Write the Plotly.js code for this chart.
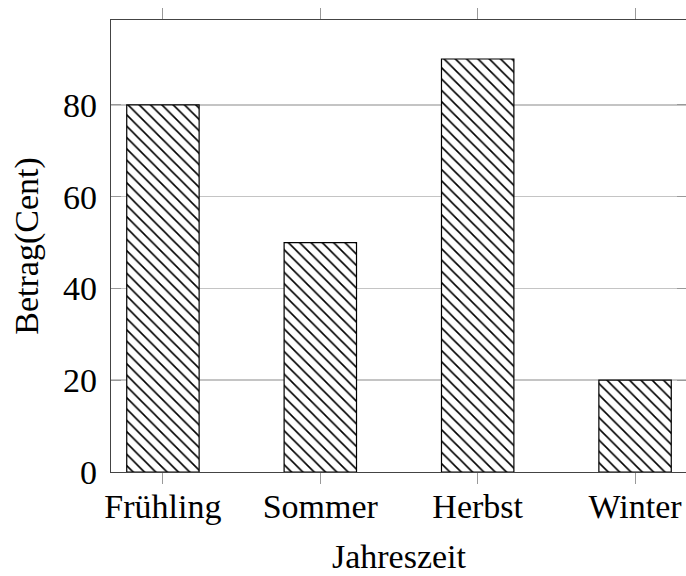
<!DOCTYPE html>
<html>
<head>
<meta charset="utf-8">
<script src="https://cdn.plot.ly/plotly-3.0.1.min.js"></script>
<style>
html,body{margin:0;padding:0;overflow:hidden;background:#fff;}
#chart{width:700px;height:576px;}
</style>
</head>
<body>
<div id="chart"></div>
<script>
const seasons = ["Frühling", "Sommer", "Herbst", "Winter"];
const amounts = [80, 50, 90, 20];
const yTicks = [0, 20, 40, 60, 80];
const xTitle = "Jahreszeit";
const yTitle = "Betrag(Cent)";

const font = {family: "Liberation Serif, DejaVu Serif, serif", size: 34, color: "#000"};

Plotly.newPlot("chart", [{
  type: "bar",
  x: [0, 1, 2, 3],
  y: amounts,
  width: 0.46,
  marker: {
    color: "#fff",
    line: {color: "#000", width: 1.2},
    pattern: {shape: "\\", fgcolor: "#000", bgcolor: "#fff", size: 8, solidity: 0.2}
  },
  hoverinfo: "none"
}], {
  width: 700, height: 576,
  margin: {l: 111, r: 13, t: 20, b: 104},
  paper_bgcolor: "#fff", plot_bgcolor: "#fff",
  showlegend: false,
  font: font,
  xaxis: {
    range: [-0.33, 3.33],
    tickmode: "array", tickvals: [0, 1, 2, 3], ticktext: seasons,
    ticks: "outside", ticklen: 11, tickcolor: "#999", tickwidth: 1,
    showline: true, linecolor: "#444", linewidth: 1.2, mirror: "ticks",
    showgrid: false, zeroline: false,
    tickfont: font, ticklabelstandoff: -7,
    title: {text: xTitle, font: font, standoff: 20}
  },
  yaxis: {
    range: [0, 98.5],
    tickmode: "array", tickvals: yTicks, ticktext: yTicks.map(String),
    ticks: "inside", ticklen: 10, tickcolor: "#999", tickwidth: 1,
    showline: true, linecolor: "#444", linewidth: 1.2, mirror: "ticks",
    showgrid: true, gridcolor: "#c4c4c4", gridwidth: 1.5,
    zeroline: false,
    tickfont: font, ticklabelstandoff: 6,
    title: {text: yTitle, font: font, standoff: 14}
  }
}, {staticPlot: true, displayModeBar: false});
</script>
</body>
</html>
